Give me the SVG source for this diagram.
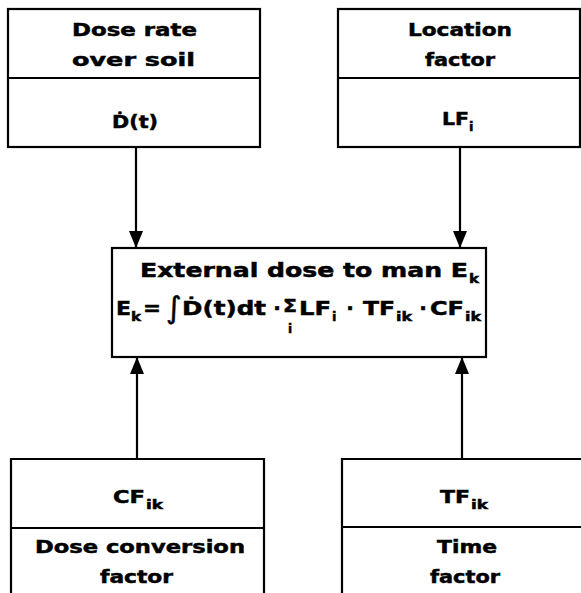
<svg xmlns="http://www.w3.org/2000/svg" width="581" height="593" viewBox="0 0 581 593">
<defs>
<style>
.bx{fill:none;stroke:#000;stroke-width:2.2}
.ln{fill:none;stroke:#000;stroke-width:2.2}
text{font-family:"DejaVu Sans","Liberation Sans",sans-serif;font-weight:bold;fill:#000;stroke:#000;stroke-width:0.5}
.t{font-size:18px}
.c{font-size:20px}
.s{font-size:13px}
.m{text-anchor:middle}
</style>
<marker id="ah" markerUnits="userSpaceOnUse" markerWidth="18" markerHeight="14" viewBox="0 0 18 14" refX="17" refY="7" orient="auto">
<path d="M0,0 L17,7 L0,14 Z" fill="#000"/>
</marker>
</defs>
<rect width="581" height="593" fill="#fff"/>

<g id="connectors">
<line class="ln" x1="136" y1="147" x2="136" y2="248" marker-end="url(#ah)"/>
<line class="ln" x1="460" y1="147" x2="460" y2="248" marker-end="url(#ah)"/>
<line class="ln" x1="137" y1="459" x2="137" y2="357" marker-end="url(#ah)"/>
<line class="ln" x1="462" y1="459" x2="462" y2="357" marker-end="url(#ah)"/>
</g>

<g id="dose-rate">
<rect class="bx" x="8" y="9" width="252" height="138"/>
<line class="ln" x1="8" y1="78" x2="260" y2="78"/>
<text class="t" x="72" y="36" textLength="125" lengthAdjust="spacingAndGlyphs">Dose rate</text>
<text class="t" x="72" y="66" textLength="123" lengthAdjust="spacingAndGlyphs">over soil</text>
<text class="t" x="112" y="128" textLength="46" lengthAdjust="spacingAndGlyphs">Ḋ(t)</text>
</g>

<g id="location-factor">
<rect class="bx" x="338" y="9" width="242" height="138"/>
<line class="ln" x1="338" y1="78" x2="580" y2="78"/>
<text class="t" x="408" y="36" textLength="104" lengthAdjust="spacingAndGlyphs">Location</text>
<text class="t" x="425" y="66" textLength="70" lengthAdjust="spacingAndGlyphs">factor</text>
<text class="t" x="442" y="125" textLength="27" lengthAdjust="spacingAndGlyphs">LF</text>
<text class="s" x="469" y="131">i</text>
</g>

<g id="external-dose">
<rect class="bx" x="112" y="248" width="374" height="109"/>
<text class="c" x="140" y="277" textLength="328" lengthAdjust="spacingAndGlyphs">External dose to man E</text>
<text class="s" x="469" y="283" textLength="10" lengthAdjust="spacingAndGlyphs">k</text>
<text class="c" x="116" y="315" textLength="15" lengthAdjust="spacingAndGlyphs">E</text>
<text class="s" x="131" y="321" textLength="10" lengthAdjust="spacingAndGlyphs">k</text>
<text class="c" x="143" y="315" textLength="18" lengthAdjust="spacingAndGlyphs">=</text>
<text x="166" y="318" style="font-size:30px;font-weight:normal">∫</text>
<text class="c" x="182" y="315" textLength="84" lengthAdjust="spacingAndGlyphs">Ḋ(t)dt</text>
<text class="c m" x="277" y="315">·</text>
<text class="c" x="283" y="312" textLength="14" lengthAdjust="spacingAndGlyphs" style="font-size:17px">Σ</text>
<text class="m" x="290" y="333" style="font-size:12px">i</text>
<text class="c" x="299" y="315" textLength="32" lengthAdjust="spacingAndGlyphs">LF</text>
<text class="s" x="332" y="321">i</text>
<text class="c m" x="350" y="315">·</text>
<text class="c" x="363" y="315" textLength="32" lengthAdjust="spacingAndGlyphs">TF</text>
<text class="s" x="396" y="321" textLength="16" lengthAdjust="spacingAndGlyphs">ik</text>
<text class="c m" x="423" y="315">·</text>
<text class="c" x="430" y="315" textLength="34" lengthAdjust="spacingAndGlyphs">CF</text>
<text class="s" x="465" y="321" textLength="16" lengthAdjust="spacingAndGlyphs">ik</text>
</g>

<g id="conversion-factor">
<path class="bx" d="M11,593 V459 H264 V593"/>
<line class="ln" x1="11" y1="528" x2="264" y2="528"/>
<text class="t" x="113" y="503" textLength="32" lengthAdjust="spacingAndGlyphs">CF</text>
<text class="s" x="146" y="509" textLength="17" lengthAdjust="spacingAndGlyphs">ik</text>
<text class="t" x="35" y="553" textLength="210" lengthAdjust="spacingAndGlyphs">Dose conversion</text>
<text class="t" x="100" y="583" textLength="73" lengthAdjust="spacingAndGlyphs">factor</text>
</g>

<g id="time-factor">
<path class="bx" d="M342,593 V459 H582"/>
<line class="ln" x1="342" y1="527" x2="582" y2="527"/>
<text class="t" x="440" y="503" textLength="30" lengthAdjust="spacingAndGlyphs">TF</text>
<text class="s" x="471" y="509" textLength="17" lengthAdjust="spacingAndGlyphs">ik</text>
<text class="t" x="437" y="553" textLength="60" lengthAdjust="spacingAndGlyphs">Time</text>
<text class="t" x="430" y="583" textLength="70" lengthAdjust="spacingAndGlyphs">factor</text>
</g>
</svg>
